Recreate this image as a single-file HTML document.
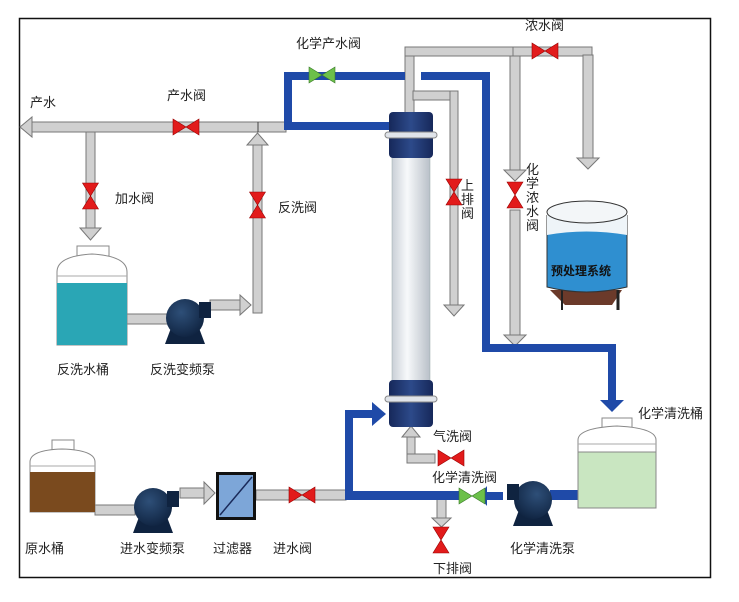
<!DOCTYPE html>
<html><head><meta charset="utf-8"><style>
html,body{margin:0;padding:0;background:#fff;}
svg{display:block;}
text{font-family:"Liberation Sans","Noto Sans CJK SC",sans-serif;font-size:13px;fill:#222;}
</style></head><body>
<svg width="739" height="602" viewBox="0 0 739 602" xmlns="http://www.w3.org/2000/svg">
<defs>
<linearGradient id="col" x1="0" x2="1"><stop offset="0" stop-color="#c9cfd6"/><stop offset=".4" stop-color="#f7f9fb"/><stop offset="1" stop-color="#b9c0c8"/></linearGradient>
<radialGradient id="pump" cx=".4" cy=".35" r=".7"><stop offset="0" stop-color="#2e4f78"/><stop offset="1" stop-color="#0f2340"/></radialGradient>
<linearGradient id="cap" x1="0" x2="1"><stop offset="0" stop-color="#16285a"/><stop offset=".5" stop-color="#2d4a8a"/><stop offset="1" stop-color="#16285a"/></linearGradient>
<g id="vr"><polygon points="-13,-8 0,0 -13,8" fill="#e21b1b" stroke="#900" stroke-width=".6"/><polygon points="13,-8 0,0 13,8" fill="#e21b1b" stroke="#900" stroke-width=".6"/></g>
<g id="vg"><polygon points="-13,-8 0,0 -13,8" fill="#6cc04a" stroke="#3a7a2a" stroke-width=".6"/><polygon points="13,-8 0,0 13,8" fill="#6cc04a" stroke="#3a7a2a" stroke-width=".6"/></g>
<g id="pmp"><path d="M-14,10 L-20,26 L20,26 L14,10Z" fill="#0f2340"/><circle r="19" fill="url(#pump)"/><rect x="14" y="-16" width="12" height="16" fill="#0f2340"/></g>
</defs>
<rect x="19.5" y="18.5" width="691" height="559" fill="#fff" stroke="#111" stroke-width="1.5"/>

<!-- gray pipes top-left -->
<g fill="#d0d0d0" stroke="#777" stroke-width="1">
<rect x="30" y="122" width="256" height="10"/>
<polygon points="20,127 32,117 32,137"/>
<rect x="86" y="132" width="9" height="96"/>
<polygon points="80,228 101,228 90.5,240"/>
<rect x="253" y="145" width="9" height="168"/>
<polygon points="247,145 268,145 257.5,133"/>
<rect x="127" y="314" width="48" height="10"/>
<rect x="210" y="300" width="30" height="10"/>
<polygon points="240,295 240,315 251,305"/>
<rect x="405" y="47" width="9" height="75"/>
<rect x="405" y="47" width="187" height="9"/>
<rect x="583" y="55" width="10" height="103"/>
<polygon points="577,158 599,158 588,169"/>
<rect x="510" y="56" width="10" height="114"/>
<polygon points="504,170 526,170 515,181"/>
<rect x="510" y="210" width="10" height="125"/>
<polygon points="504,335 526,335 515,346"/>
<rect x="413" y="91" width="45" height="9"/>
<rect x="450" y="91" width="8" height="215"/>
<polygon points="444,305 464,305 454,316"/>
<rect x="407" y="437" width="8" height="25"/>
<rect x="407" y="454" width="28" height="9"/>
<polygon points="402,437 420,437 411,426"/>
<rect x="437" y="498" width="9" height="20"/>
<polygon points="432,518 451,518 441.5,527"/>
<rect x="95" y="505" width="40" height="10"/>
<rect x="180" y="488" width="24" height="10"/>
<polygon points="204,482 204,504 215,493"/>
<rect x="256" y="490" width="90" height="10"/>
</g>
<line x1="258" y1="122" x2="258" y2="132" stroke="#444"/>
<line x1="513" y1="47" x2="513" y2="56" stroke="#777"/>

<!-- blue pipes -->
<g fill="#1f4aa8">
<rect x="284" y="72" width="121" height="8"/>
<rect x="284" y="72" width="8" height="58"/>
<rect x="284" y="122" width="108" height="8"/>
<rect x="421" y="72" width="69" height="8"/>
<rect x="482" y="72" width="8" height="280"/>
<rect x="482" y="344" width="134" height="8"/>
<rect x="608" y="344" width="8" height="56"/>
<polygon points="600,400 624,400 612,412"/>
<rect x="345" y="410" width="8" height="90"/>
<rect x="345" y="410" width="28" height="8"/>
<polygon points="372,402 372,426 386,414"/>
<rect x="345" y="491" width="115" height="9"/>
<rect x="487" y="492" width="16" height="8"/>
<polygon points="487,486 487,506 479,496"/>
<rect x="550" y="490" width="30" height="10"/>
</g>

<!-- valves -->
<use href="#vr" x="186" y="127"/>
<use href="#vg" x="322" y="75"/>
<use href="#vr" x="545" y="51"/>
<use href="#vr" x="90.5" y="196" transform="rotate(90 90.5 196)"/>
<use href="#vr" x="257.5" y="205" transform="rotate(90 257.5 205)"/>
<use href="#vr" x="454" y="192" transform="rotate(90 454 192)"/>
<use href="#vr" x="515" y="195" transform="rotate(90 515 195)"/>
<use href="#vr" x="451" y="458"/>
<use href="#vg" x="472" y="496"/>
<use href="#vr" x="302" y="495"/>
<use href="#vr" x="441" y="540" transform="rotate(90 441 540)"/>

<!-- membrane module -->
<rect x="392" y="155" width="38" height="230" fill="url(#col)" stroke="#9aa" stroke-width=".5"/>
<rect x="389" y="112" width="44" height="46" rx="4" fill="url(#cap)"/>
<rect x="385" y="132" width="52" height="6" rx="3" fill="#e0e4ea" stroke="#888"/>
<rect x="389" y="380" width="44" height="47" rx="4" fill="url(#cap)"/>
<rect x="385" y="396" width="52" height="6" rx="3" fill="#e0e4ea" stroke="#888"/>

<!-- backwash tank -->
<rect x="77" y="246" width="32" height="10" fill="#fff" stroke="#888"/>
<path d="M57,345 L57,272 Q57,256 92,254 Q127,256 127,272 L127,345Z" fill="#fff" stroke="#888"/>
<line x1="57" y1="276" x2="127" y2="276" stroke="#aaa"/>
<rect x="57" y="283" width="70" height="62" fill="#2aa6b5"/>
<use href="#pmp" x="185" y="318"/>

<!-- pretreatment tank -->
<path d="M550,290 L565,305 L612,305 L622,290Z" fill="#6b3a2a"/>
<line x1="562" y1="290" x2="562" y2="310" stroke="#222" stroke-width="2"/><line x1="618" y1="290" x2="618" y2="310" stroke="#222" stroke-width="3"/>
<path d="M547,215 L547,287 Q586,297 627,287 L627,215" fill="#2f8fd0" stroke="#333"/>
<path d="M547,215 L547,235 Q586,228 627,235 L627,215Z" fill="#eef4f8"/>
<ellipse cx="587" cy="212" rx="40" ry="11" fill="#f3f6f8" stroke="#333"/>
<text x="551" y="275" style="font-weight:bold;font-size:12px;fill:#111">预处理系统</text>

<!-- chem tank -->
<rect x="602" y="418" width="30" height="10" fill="#fff" stroke="#888"/>
<path d="M578,508 L578,440 Q578,428 617,426 Q656,428 656,440 L656,508Z" fill="#fff" stroke="#888"/>
<line x1="578" y1="444" x2="656" y2="444" stroke="#aaa"/>
<rect x="578" y="452" width="78" height="56" fill="#c9e6c1" stroke="#888"/>

<!-- raw water tank -->
<rect x="52" y="440" width="22" height="10" fill="#fff" stroke="#888"/>
<path d="M30,512 L30,462 Q30,450 62,449 Q95,450 95,462 L95,512Z" fill="#fff" stroke="#888"/>
<line x1="30" y1="466" x2="95" y2="466" stroke="#aaa"/>
<rect x="30" y="472" width="65" height="40" fill="#7a4a1e"/>
<use href="#pmp" x="153" y="507"/>
<use href="#pmp" x="533" y="500" transform="translate(1066 0) scale(-1 1)"/>

<!-- filter -->
<rect x="216" y="472" width="40" height="48" fill="#111"/>
<rect x="219" y="475" width="34" height="42" fill="#7da6d8"/>
<line x1="220" y1="515" x2="252" y2="477" stroke="#1a2a5a" stroke-width="1.5"/>

<!-- labels -->
<text x="30" y="107">产水</text>
<text x="167" y="100">产水阀</text>
<text x="296" y="48">化学产水阀</text>
<text x="525" y="30">浓水阀</text>
<text x="115" y="203">加水阀</text>
<text x="278" y="212">反洗阀</text>
<text x="461" y="190">上</text><text x="461" y="204">排</text><text x="461" y="218">阀</text>
<text x="526" y="174">化</text><text x="526" y="188">学</text><text x="526" y="202">浓</text><text x="526" y="216">水</text><text x="526" y="230">阀</text>
<text x="57" y="374">反洗水桶</text>
<text x="150" y="374">反洗变频泵</text>
<text x="638" y="418">化学清洗桶</text>
<text x="433" y="441">气洗阀</text>
<text x="432" y="482">化学清洗阀</text>
<text x="25" y="553">原水桶</text>
<text x="120" y="553">进水变频泵</text>
<text x="213" y="553">过滤器</text>
<text x="273" y="553">进水阀</text>
<text x="510" y="553">化学清洗泵</text>
<text x="433" y="573">下排阀</text>
</svg>
</body></html>
